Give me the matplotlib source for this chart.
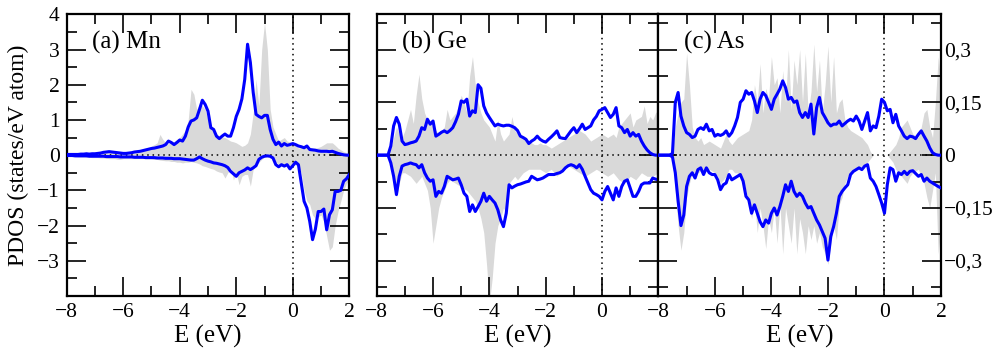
import matplotlib
matplotlib.use('Agg')
import matplotlib.pyplot as plt
import numpy as np
from matplotlib.ticker import MultipleLocator

plt.rcParams['font.family'] = ['Liberation Serif', 'DejaVu Serif']

# energy grid (eV), step 0.1 from -8 to 2
energy = np.round(np.linspace(-8, 2, 101), 1)

# ---- (a) Mn ----
mn_up = [0.02, 0.02, 0.02, 0.02, 0.02, 0.03, 0.03, 0.04, 0.03, 0.04,
         0.04, 0.05, 0.06, 0.08, 0.09, 0.1, 0.09, 0.08, 0.07, 0.06,
         0.05, 0.05, 0.06, 0.07, 0.09, 0.1, 0.11, 0.13, 0.15, 0.17,
         0.19, 0.2, 0.22, 0.24, 0.26, 0.3, 0.4, 0.36, 0.3, 0.36,
         0.43, 0.4, 0.54, 0.8, 0.97, 1.0, 1.06, 1.3, 1.56, 1.44,
         1.25, 0.78, 0.73, 0.54, 0.47, 0.54, 0.6, 0.54, 0.54, 0.78,
         1.1, 1.3, 1.6, 2.15, 3.15, 2.63, 1.78, 1.16, 1.1, 1.06,
         1.13, 1.13, 0.73, 0.45, 0.3, 0.37, 0.26, 0.33, 0.28, 0.3,
         0.33, 0.3, 0.26, 0.24, 0.21, 0.26, 0.16, 0.15, 0.14, 0.12,
         0.11, 0.11, 0.11, 0.1, 0.11, 0.08, 0.05, 0.03, 0.01, 0.0,
         0.0]
mn_dn = [-0.01, -0.01, -0.01, -0.02, -0.02, -0.02, -0.02, -0.02, -0.03, -0.03,
         -0.03, -0.03, -0.03, -0.03, -0.04, -0.04, -0.04, -0.04, -0.04, -0.05,
         -0.05, -0.05, -0.05, -0.05, -0.06, -0.06, -0.06, -0.06, -0.07, -0.07,
         -0.07, -0.07, -0.08, -0.08, -0.08, -0.09, -0.09, -0.09, -0.1, -0.1,
         -0.1, -0.11, -0.12, -0.13, -0.14, -0.14, -0.1, -0.05, -0.1, -0.14,
         -0.17, -0.19, -0.22, -0.23, -0.25, -0.27, -0.3, -0.35, -0.46, -0.53,
         -0.6, -0.5, -0.46, -0.42, -0.36, -0.41, -0.36, -0.3, -0.12, -0.06,
         -0.03, -0.02, -0.03, -0.08, -0.27, -0.33, -0.27, -0.31, -0.27, -0.39,
         -0.3, -0.2, -0.27, -0.79, -1.31, -1.5, -1.88, -2.4, -2.1, -1.6,
         -1.6, -1.53, -2.12, -1.69, -1.55, -1.03, -1.03, -1.0, -0.74, -0.67,
         -0.55]
mn_ref_up = [0.03, 0.03, 0.04, 0.04, 0.05, 0.05, 0.05, 0.06, 0.05, 0.06,
             0.07, 0.06, 0.08, 0.1, 0.1, 0.08, 0.12, 0.1, 0.08, 0.07,
             0.07, 0.08, 0.06, 0.05, 0.07, 0.08, 0.1, 0.12, 0.15, 0.18,
             0.26, 0.3, 0.35, 0.59, 0.45, 0.35, 0.32, 0.38, 0.38, 0.45,
             0.5, 0.6, 0.7, 1.0, 1.87, 1.73, 1.3, 1.45, 1.4, 1.3,
             1.0, 0.85, 0.7, 0.6, 0.55, 0.52, 0.5, 0.45, 0.4, 0.38,
             0.35, 0.3, 0.25, 0.28, 0.35, 0.6, 1.2, 2.15, 1.4, 3.0,
             3.77, 3.0, 1.3, 0.8, 0.6, 0.4, 0.45, 0.5, 0.4, 0.38,
             0.35, 0.28, 0.2, 0.22, 0.25, 0.25, 0.22, 0.2, 0.2, 0.22,
             0.25, 0.3, 0.35, 0.35, 0.35, 0.28, 0.2, 0.15, 0.1, 0.07,
             0.05]
mn_ref_dn = [-0.03, -0.03, -0.04, -0.04, -0.05, -0.05, -0.05, -0.06, -0.06, -0.07,
             -0.07, -0.07, -0.08, -0.08, -0.09, -0.1, -0.1, -0.1, -0.12, -0.12,
             -0.1, -0.1, -0.1, -0.1, -0.1, -0.1, -0.1, -0.1, -0.1, -0.1,
             -0.1, -0.12, -0.12, -0.14, -0.15, -0.16, -0.16, -0.18, -0.18, -0.2,
             -0.2, -0.22, -0.2, -0.2, -0.18, -0.2, -0.22, -0.25, -0.3, -0.32,
             -0.35, -0.38, -0.4, -0.45, -0.48, -0.5, -0.65, -0.5, -0.36, -0.7,
             -0.5, -0.84, -0.6, -0.55, -0.55, -0.88, -0.4, -0.3, -0.2, -0.12,
             -0.05, -0.05, -0.08, -0.12, -0.2, -0.25, -0.3, -0.3, -0.28, -0.3,
             -0.25, -0.28, -0.3, -0.5, -1.0, -1.3, -1.4, -1.7, -1.8, -1.75,
             -1.7, -1.9, -2.3, -2.7, -2.6, -2.0, -1.6, -1.3, -1.0, -0.8,
             -0.7]

# ---- (b) Ge ----
ge_up = [0, 0, 0, 0, 0, 0.026, 0.083, 0.107, 0.088, 0.04,
         0.03, 0.032, 0.035, 0.037, 0.04, 0.054, 0.078, 0.073, 0.102, 0.088,
         0.097, 0.054, 0.059, 0.065, 0.069, 0.064, 0.07, 0.078, 0.095, 0.116,
         0.154, 0.15, 0.159, 0.111, 0.126, 0.121, 0.2, 0.19, 0.14, 0.12,
         0.107, 0.095, 0.083, 0.088, 0.085, 0.083, 0.085, 0.085, 0.082, 0.078,
         0.07, 0.054, 0.05, 0.045, 0.033, 0.04, 0.045, 0.054, 0.045, 0.04,
         0.037, 0.045, 0.052, 0.06, 0.069, 0.05, 0.048, 0.047, 0.058, 0.069,
         0.078, 0.064, 0.075, 0.088, 0.073, 0.078, 0.083, 0.1, 0.11, 0.126,
         0.13, 0.135, 0.121, 0.107, 0.116, 0.135, 0.083, 0.078, 0.064, 0.073,
         0.054, 0.064, 0.054, 0.059, 0.04, 0.026, 0.015, 0.007, 0.002, 0,
         0]
ge_dn = [0, 0, 0, 0, 0, -0.022, -0.06, -0.112, -0.06, -0.031,
         -0.027, -0.025, -0.022, -0.025, -0.027, -0.036, -0.027, -0.05, -0.065, -0.074,
         -0.07, -0.117, -0.103, -0.108, -0.089, -0.06, -0.065, -0.07, -0.068, -0.065,
         -0.084, -0.108, -0.117, -0.16, -0.141, -0.16, -0.146, -0.131, -0.108, -0.131,
         -0.117, -0.127, -0.136, -0.155, -0.184, -0.203, -0.165, -0.084, -0.093, -0.088,
         -0.084, -0.082, -0.079, -0.076, -0.074, -0.06, -0.065, -0.07, -0.068, -0.065,
         -0.06, -0.055, -0.055, -0.055, -0.052, -0.05, -0.045, -0.036, -0.03, -0.027,
         -0.03, -0.036, -0.027, -0.04, -0.06, -0.079, -0.098, -0.108, -0.112, -0.117,
         -0.127, -0.103, -0.089, -0.108, -0.127, -0.093, -0.117, -0.089, -0.074, -0.07,
         -0.093, -0.117, -0.117, -0.103, -0.084, -0.079, -0.079, -0.079, -0.065, -0.068,
         -0.07]
ge_ref_up = [0, 0, 0, 0, 0, 0.02, 0.05, 0.08, 0.06, 0.05,
             0.07, 0.1, 0.13, 0.09, 0.17, 0.23, 0.16, 0.12, 0.1, 0.09,
             0.08, 0.07, 0.06, 0.07, 0.08, 0.13, 0.1, 0.11, 0.12, 0.14,
             0.17, 0.15, 0.12, 0.225, 0.28, 0.2, 0.15, 0.12, 0.1, 0.09,
             0.08, 0.06, 0.04, 0.1, 0.06, 0.04, 0.05, 0.06, 0.11, 0.07,
             0.06, 0.055, 0.05, 0.045, 0.04, 0.035, 0.03, 0.03, 0.035, 0.03,
             0.03, 0.025, 0.02, 0.025, 0.03, 0.035, 0.04, 0.045, 0.05, 0.055,
             0.06, 0.065, 0.07, 0.065, 0.06, 0.05, 0.04, 0.045, 0.05, 0.055,
             0.06, 0.055, 0.05, 0.055, 0.06, 0.05, 0.08, 0.09, 0.1, 0.11,
             0.12, 0.08, 0.1, 0.105, 0.11, 0.14, 0.09, 0.11, 0.1, 0.12,
             0.13]
ge_ref_dn = [0, 0, 0, 0, 0, -0.02, -0.06, -0.12, -0.08, -0.05,
             -0.05, -0.055, -0.06, -0.07, -0.08, -0.07, -0.06, -0.08, -0.1, -0.15,
             -0.25, -0.2, -0.15, -0.12, -0.1, -0.08, -0.07, -0.075, -0.08, -0.085,
             -0.09, -0.095, -0.1, -0.11, -0.12, -0.13, -0.15, -0.18, -0.22, -0.31,
             -0.42, -0.35, -0.25, -0.2, -0.18, -0.15, -0.165, -0.08, -0.07, -0.06,
             -0.07, -0.06, -0.05, -0.045, -0.04, -0.04, -0.04, -0.04, -0.04, -0.045,
             -0.05, -0.045, -0.04, -0.05, -0.06, -0.05, -0.04, -0.035, -0.03, -0.035,
             -0.04, -0.045, -0.05, -0.055, -0.06, -0.055, -0.05, -0.045, -0.04, -0.045,
             -0.05, -0.055, -0.06, -0.055, -0.05, -0.06, -0.07, -0.075, -0.08, -0.07,
             -0.06, -0.065, -0.07, -0.06, -0.05, -0.055, -0.06, -0.06, -0.06, -0.055,
             -0.05]

# ---- (c) As ----
as_up = [0, 0, 0, 0, 0, 0.005, 0.15, 0.178, 0.111, 0.083,
         0.064, 0.059, 0.05, 0.054, 0.073, 0.078, 0.073, 0.088, 0.069, 0.073,
         0.054, 0.059, 0.056, 0.06, 0.069, 0.054, 0.064, 0.083, 0.107, 0.15,
         0.159, 0.183, 0.173, 0.178, 0.154, 0.121, 0.159, 0.178, 0.169, 0.15,
         0.13, 0.159, 0.173, 0.188, 0.211, 0.192, 0.159, 0.164, 0.15, 0.154,
         0.121, 0.107, 0.121, 0.107, 0.145, 0.06, 0.135, 0.164, 0.121, 0.107,
         0.092, 0.083, 0.088, 0.088, 0.097, 0.083, 0.09, 0.097, 0.102, 0.097,
         0.111, 0.097, 0.073, 0.097, 0.121, 0.069, 0.083, 0.078, 0.111, 0.159,
         0.15, 0.126, 0.13, 0.092, 0.116, 0.083, 0.069, 0.054, 0.047, 0.054,
         0.052, 0.047, 0.059, 0.069, 0.054, 0.04, 0.021, 0.007, 0.002, 0,
         0]
as_dn = [0, 0, 0, 0, 0, -0.005, -0.05, -0.13, -0.2, -0.17,
         -0.089, -0.06, -0.05, -0.065, -0.041, -0.036, -0.055, -0.036, -0.05, -0.055,
         -0.055, -0.07, -0.098, -0.084, -0.079, -0.055, -0.07, -0.065, -0.06, -0.055,
         -0.074, -0.117, -0.127, -0.165, -0.141, -0.165, -0.189, -0.203, -0.184, -0.193,
         -0.165, -0.15, -0.17, -0.146, -0.117, -0.084, -0.103, -0.074, -0.103, -0.117,
         -0.108, -0.117, -0.136, -0.15, -0.146, -0.165, -0.184, -0.198, -0.217, -0.236,
         -0.298, -0.231, -0.203, -0.165, -0.117, -0.103, -0.093, -0.084, -0.055, -0.046,
         -0.041, -0.036, -0.041, -0.031, -0.027, -0.065, -0.074, -0.089, -0.112, -0.136,
         -0.165, -0.084, -0.036, -0.041, -0.074, -0.05, -0.055, -0.046, -0.055, -0.046,
         -0.044, -0.052, -0.06, -0.055, -0.074, -0.065, -0.074, -0.079, -0.084, -0.089,
         -0.093]
as_ref_up = [0, 0, 0, 0, 0, 0.01, 0.08, 0.12, 0.15, 0.16,
             0.29, 0.2, 0.08, 0.05, 0.04, 0.05, 0.03, 0.035, 0.04, 0.035,
             0.03, 0.025, 0.02, 0.04, 0.06, 0.04, 0.03, 0.04, 0.05, 0.055,
             0.06, 0.065, 0.07, 0.1, 0.2, 0.15, 0.26, 0.12, 0.19, 0.16,
             0.28, 0.2, 0.22, 0.12, 0.24, 0.15, 0.3, 0.13, 0.27, 0.2,
             0.3, 0.15, 0.29, 0.12, 0.18, 0.315, 0.18, 0.27, 0.12, 0.2,
             0.31, 0.15, 0.28, 0.12, 0.15, 0.16, 0.1, 0.08, 0.07, 0.065,
             0.06, 0.055, 0.05, 0.04, 0.03, 0.01, 0.0, 0.0, 0.0, 0.0,
             0.0, 0.0, 0.01, 0.02, 0.03, 0.05, 0.08, 0.09, 0.1, 0.08,
             0.06, 0.055, 0.05, 0.08, 0.12, 0.13, 0.08, 0.05, 0.15, 0.28,
             0.2]
as_ref_dn = [0, 0, 0, 0, 0, -0.01, -0.1, -0.2, -0.27, -0.22,
             -0.12, -0.08, -0.05, -0.05, -0.05, -0.045, -0.04, -0.04, -0.04, -0.045,
             -0.05, -0.06, -0.08, -0.07, -0.06, -0.04, -0.04, -0.05, -0.05, -0.06,
             -0.07, -0.1, -0.14, -0.18, -0.13, -0.22, -0.15, -0.2, -0.265, -0.18,
             -0.22, -0.15, -0.25, -0.14, -0.28, -0.15, -0.2, -0.25, -0.15, -0.28,
             -0.18, -0.22, -0.28, -0.2, -0.24, -0.2, -0.25, -0.22, -0.26, -0.28,
             -0.31, -0.25, -0.2, -0.24, -0.14, -0.12, -0.08, -0.06, -0.05, -0.045,
             -0.04, -0.035, -0.03, -0.025, -0.02, -0.01, 0, 0, 0, 0,
             0, 0, -0.01, -0.02, -0.04, -0.05, -0.06, -0.07, -0.08, -0.06,
             -0.05, -0.045, -0.04, -0.06, -0.08, -0.12, -0.15, -0.1, -0.05, -0.28,
             -0.2]

panel_titles = ['(a) Mn', '(b) Ge', '(c) As']
xtick_vals = [-8, -6, -4, -2, 0, 2]
mn_yticks = [-3, -2, -1, 0, 1, 2, 3, 4]
small_yticks = [-0.3, -0.15, 0, 0.15, 0.3]
small_ylabels = ['\u22120,3', '\u22120,15', '0', '0,15', '0,3']

fig = plt.figure(figsize=(9.94, 3.56), dpi=100)
ax_a = fig.add_axes([0.0671, 0.1685, 0.2843, 0.7913])
ax_b = fig.add_axes([0.3790, 0.1685, 0.2833, 0.7913])
ax_c = fig.add_axes([0.6623, 0.1685, 0.2844, 0.7913])

gray = '#d9d9d9'
blue = '#0000ff'

data = [(ax_a, mn_up, mn_dn, mn_ref_up, mn_ref_dn),
        (ax_b, ge_up, ge_dn, ge_ref_up, ge_ref_dn),
        (ax_c, as_up, as_dn, as_ref_up, as_ref_dn)]

for i, (ax, up, dn, rup, rdn) in enumerate(data):
    ax.fill_between(energy, 0, rup, color=gray, linewidth=0, zorder=1)
    ax.fill_between(energy, 0, rdn, color=gray, linewidth=0, zorder=1)
    ax.axhline(0, color='k', linestyle=(0, (1, 2.5)), linewidth=1.1, zorder=2)
    ax.axvline(0, color='k', linestyle=(0, (1, 2.5)), linewidth=1.1, zorder=2)
    ax.plot(energy, up, color=blue, linewidth=2.2, zorder=3)
    ax.plot(energy, dn, color=blue, linewidth=2.2, zorder=3)
    ax.set_xlim(-8, 2)
    ax.xaxis.set_major_locator(MultipleLocator(2))
    ax.xaxis.set_minor_locator(MultipleLocator(1))
    ax.tick_params(which='both', direction='in', top=True, right=True,
                   labelsize=15.5, width=1.2, pad=5)
    ax.tick_params(which='major', length=13.5)
    ax.tick_params(which='minor', length=7)
    for s in ax.spines.values():
        s.set_linewidth(1.6)
    ax.set_xlabel('E (eV)', fontsize=18, labelpad=2)
    ax.text(0.09, 0.9, panel_titles[i], transform=ax.transAxes,
            fontsize=18, va='center', ha='left', zorder=4)

ax_a.set_ylim(-4, 4)
ax_a.set_yticks(mn_yticks)
ax_a.yaxis.set_minor_locator(MultipleLocator(0.5))
ax_a.set_ylabel('PDOS (states/eV atom)', fontsize=17, labelpad=6)

for ax in [ax_b, ax_c]:
    ax.set_ylim(-0.4, 0.4)
    ax.set_yticks(small_yticks)
    ax.yaxis.set_minor_locator(MultipleLocator(0.075))

ax_b.tick_params(labelleft=False)
ax_b.set_xticks(xtick_vals)
ax_b.set_xticklabels(['\u22128', '\u22126', '\u22124', '\u22122', '0', ''])
ax_c.set_yticklabels(small_ylabels)
ax_c.tick_params(axis='y', labelleft=False, labelright=True, pad=2)

fig.savefig('out.png', dpi=100)
